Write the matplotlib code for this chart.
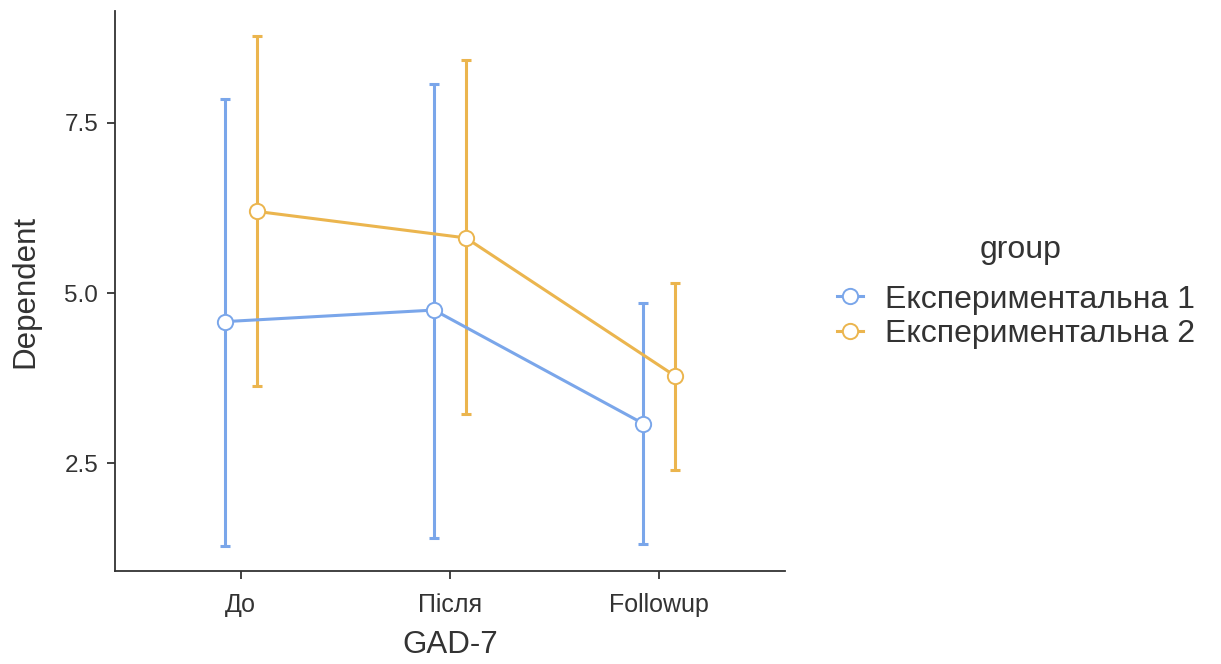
import matplotlib.pyplot as plt
from matplotlib.lines import Line2D
import numpy as np

plt.rcParams['font.family'] = ['Liberation Sans', 'DejaVu Sans']

# data
times = ["До", "Після", "Followup"]
groups = ["Експериментальна 1", "Експериментальна 2"]
means_g1 = [4.58, 4.75, 3.08]
lower_g1 = [1.29, 1.40, 1.32]
upper_g1 = [7.85, 8.07, 4.85]
means_g2 = [6.20, 5.81, 3.78]
lower_g2 = [3.64, 3.22, 2.40]
upper_g2 = [8.77, 8.42, 5.15]

colors = ["#7AA6EA", "#EBB54E"]
dark = "#333333"

fig = plt.figure(figsize=(12.21, 6.64), dpi=100)
ax = fig.add_axes([115 / 1221, (664 - 571) / 664, 670 / 1221, (571 - 11) / 664])

x = np.arange(1, len(times) + 1)
dodge = 0.076
series = [(means_g1, lower_g1, upper_g1, -dodge), (means_g2, lower_g2, upper_g2, dodge)]

for (m, lo, up, off), c in zip(series, colors):
    m = np.array(m)
    yerr = [m - np.array(lo), np.array(up) - m]
    ax.errorbar(x + off, m, yerr=yerr, fmt='none', ecolor=c, elinewidth=2.2,
                capsize=3.8, capthick=2.2, zorder=2)
    ax.plot(x + off, m, color=c, lw=2.2, zorder=3)
    ax.plot(x + off, m, 'o', ms=11, mfc='white', mec=c, mew=1.4, zorder=4)

ax.set_xlim(0.4, 3.6)
lo_all = min(lower_g1 + lower_g2)
hi_all = max(upper_g1 + upper_g2)
pad = 0.05 * (hi_all - lo_all)
ax.set_ylim(lo_all - pad, hi_all + pad)

ax.set_xticks(x)
ax.set_xticklabels(times)
ax.set_yticks([2.5, 5.0, 7.5])
ax.set_yticklabels(["2.5", "5.0", "7.5"])

for s in ['top', 'right']:
    ax.spines[s].set_visible(False)
for s in ['left', 'bottom']:
    ax.spines[s].set_color(dark)
    ax.spines[s].set_linewidth(1.3)
ax.tick_params(colors=dark, width=1.3, length=6, labelsize=17.5, labelcolor=dark)
ax.tick_params(axis='x', pad=10, labelsize=18)
ax.tick_params(axis='y', pad=6)

ax.set_xlabel("GAD-7", fontsize=22.5, color=dark, labelpad=9)
ax.set_ylabel("Dependent", fontsize=22.5, color=dark, va='center')
ax.yaxis.set_label_coords((25 - 115) / 670, 0.5)

# legend: title as separate text, entries below it
fig.text(1021 / 1221, 1 - 250 / 664, "group", ha='center', va='center',
         fontsize=23, color=dark)
handles = [Line2D([], [], color=c, lw=2.2, marker='o', ms=11, mfc='white', mec=c, mew=1.4)
           for c in colors]
leg = fig.legend(handles, groups, loc='center left',
                 bbox_to_anchor=(837 / 1221, 1 - 317 / 664), frameon=False,
                 fontsize=23, handlelength=0.8, handletextpad=0.7,
                 labelspacing=0.15, borderpad=0, borderaxespad=0)
for t in leg.get_texts():
    t.set_color(dark)

fig.savefig("out.png", dpi=100)
